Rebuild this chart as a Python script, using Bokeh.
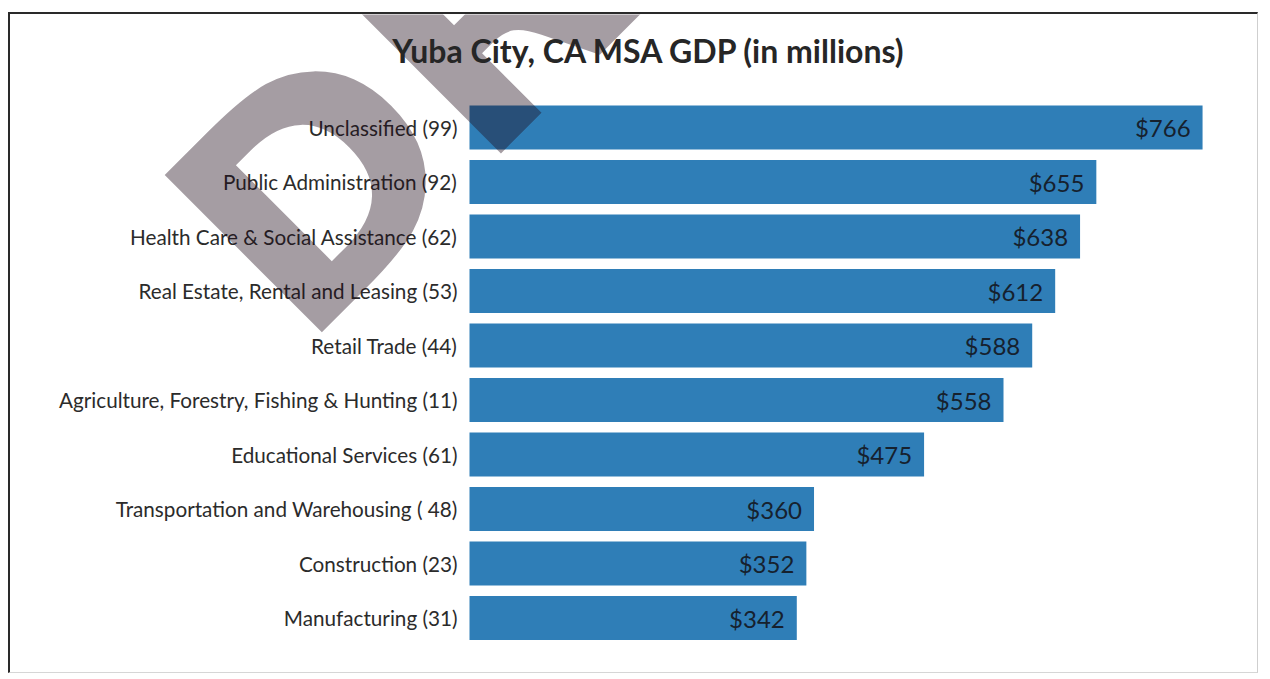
from bokeh.plotting import figure
from bokeh.models import ColumnDataSource, Range1d, Label
from bokeh.core.properties import value
from bokeh.embed import file_html
from bokeh.resources import INLINE

title_text = "Yuba City, CA MSA GDP (in millions)"
categories = [
    "Unclassified (99)",
    "Public Administration (92)",
    "Health Care & Social Assistance (62)",
    "Real Estate, Rental and Leasing (53)",
    "Retail Trade (44)",
    "Agriculture, Forestry, Fishing & Hunting (11)",
    "Educational Services (61)",
    "Transportation and Warehousing ( 48)",
    "Construction (23)",
    "Manufacturing (31)",
]
gdp = [766, 655, 638, 612, 588, 558, 475, 360, 352, 342]
labels = ["$" + str(v) for v in gdp]
rank = list(range(len(categories)))  # 0 = top row

src = ColumnDataSource(dict(cat=categories, gdp=gdp, label=labels, pos=rank))

# layout (pixels) -> ranges
W, H = 1250, 661
PX_PER_UNIT = 0.957          # horizontal scale
ZERO_X = 459                 # px from left edge of the plot area to value 0
ROW = 54.5                   # px per category row
FIRST_ROW_Y = 113            # px from top edge to centre of first row

x_range = Range1d(-ZERO_X / PX_PER_UNIT, (W - ZERO_X) / PX_PER_UNIT)
y_range = Range1d((H - FIRST_ROW_Y) / ROW, -FIRST_ROW_Y / ROW)

p = figure(
    width=W, height=H, x_range=x_range, y_range=y_range,
    output_backend="svg", toolbar_location=None,
    min_border=0,
)
p.margin = (12, 0, 0, 8)
p.styles = {
    "border-top": "2px solid #2a2a2a",
    "border-left": "2px solid #2a2a2a",
    "border-right": "1px solid #cfcfcf",
    "border-bottom": "1px solid #d6d6d6",
}
p.outline_line_color = None
p.xgrid.visible = False
p.ygrid.visible = False
p.xaxis.visible = False
p.yaxis.visible = False
p.background_fill_color = "white"
p.border_fill_color = "white"

p.hbar(y="pos", right="gdp", left=0, height=0.807, source=src,
       fill_color="#2f7eb7", line_color=None)

# category labels (left of the bars)
p.text(x=0, y="pos", text="cat", source=src, x_offset=-12,
       text_align="right", text_baseline="middle",
       text_font=value("Lato"), text_font_size="20.7px", text_color="#2b2b2b")

# value labels inside bar ends
p.text(x="gdp", y="pos", text="label", source=src, x_offset=-12,
       text_align="right", text_baseline="middle",
       text_font=value("Lato"), text_font_size="24px", text_color="#16212e")

# DRAFT watermark (anchor in page pixels, converted to data units)
WM_X, WM_Y = 227, 277
wm = Label(x=(WM_X - 469) / PX_PER_UNIT, y=(WM_Y - 127) / ROW, text="DRAFT",
           angle=0.785, text_font="DejaVu Sans", text_font_style="bold",
           text_font_size="305px", text_color="#1e0a19", text_alpha=0.4,
           text_align="left", text_baseline="alphabetic")
p.add_layout(wm)

# title
tl = Label(x=(649 - 469) / PX_PER_UNIT, y=(50 - 127) / ROW, text=title_text,
           text_align="center", text_baseline="middle",
           text_font="Lato", text_font_style="bold", text_font_size="32px",
           text_color="#262626")
p.add_layout(tl)

open("out.html", "w").write(file_html(p, INLINE))
